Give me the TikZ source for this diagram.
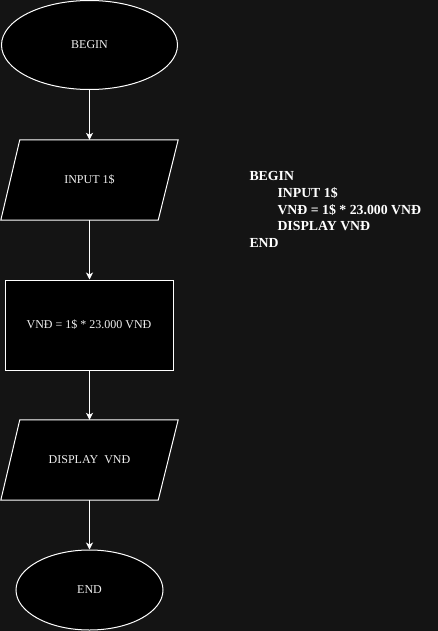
\documentclass[tikz,border=0pt]{standalone}
\usepackage{fontspec}
\setmainfont{Liberation Serif}
\usetikzlibrary{shapes.geometric,arrows.meta}
\pgfdeclarelayer{canvas}
\pgfdeclarelayer{background}
\pgfsetlayers{canvas,background,main}
\definecolor{bgc}{HTML}{141414}
\definecolor{txt}{HTML}{F0F0F0}
\tikzset{
  x=1pt, y=1pt,
  lbl/.style={text=txt, font=\fontsize{12}{14}\selectfont, inner sep=0pt},
  termbox/.style={lbl, ellipse, draw=white, fill=black, line width=1pt},
  procbox/.style={lbl, rectangle, draw=white, fill=black, line width=1pt},
  iobox/.style={lbl, rectangle, minimum width=177pt, minimum height=80pt},
  ioshape/.style={draw=white, fill=black, line width=1pt, line join=miter},
  flow/.style={draw=white, line width=1pt, -{Stealth[length=7pt,width=7pt,inset=2pt]}},
  code/.style={text=white, font=\fontsize{13.8}{16.7}\selectfont\bfseries, inner sep=0pt, anchor=base west}
}
\begin{document}
\begin{tikzpicture}
\begin{pgfonlayer}{canvas}
\fill[bgc] (0,0) rectangle (438,-631);
\end{pgfonlayer}
\useasboundingbox (0,0) rectangle (438,-631);

\node[termbox, minimum width=176pt, minimum height=89pt] (begin) at (89.5,-45) {BEGIN};
\node[iobox] (in) at (89.5,-180) {INPUT 1\$};
\node[procbox, minimum width=168pt, minimum height=90pt] (calc) at (89,-325) {VNĐ = 1\$ * 23.000 VNĐ};
\node[iobox] (out) at (89.5,-460) {DISPLAY\ \ VNĐ};
\node[termbox, minimum width=147pt, minimum height=80pt] (end) at (89.5,-590) {END};

\begin{pgfonlayer}{background}
  \path[ioshape] ([xshift=19pt]in.north west) -- (in.north east) -- ([xshift=-20pt]in.south east) -- (in.south west) -- cycle;
  \path[ioshape] ([xshift=19pt]out.north west) -- (out.north east) -- ([xshift=-20pt]out.south east) -- (out.south west) -- cycle;
\end{pgfonlayer}

\draw[flow] (begin.south) -- (in.north -| begin.south);
\draw[flow] (in.south -| begin.south) -- (calc.north -| begin.south);
\draw[flow] (calc.south -| begin.south) -- (out.north -| begin.south);
\draw[flow] (out.south -| begin.south) -- (end.north -| begin.south);

\node[code] (c1) at (249.3,-180.7) {BEGIN};
\node[code] (c2) at (277.3,-197.4) {INPUT 1\$};
\node[code] (c3) at (277.3,-214.1) {VNĐ = 1\$ * 23.000 VNĐ};
\node[code] (c4) at (277.3,-230.8) {DISPLAY VNĐ};
\node[code] (c5) at (249.3,-247.5) {END};
\end{tikzpicture}
\end{document}
